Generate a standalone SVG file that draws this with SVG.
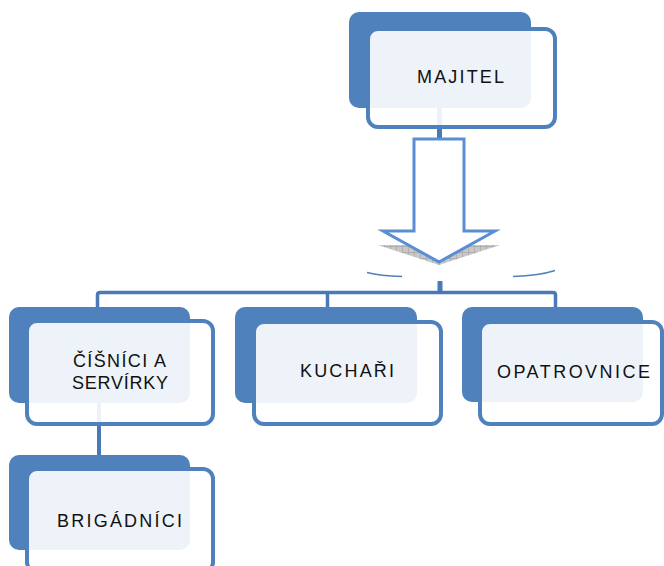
<svg xmlns="http://www.w3.org/2000/svg" width="664" height="566" viewBox="0 0 664 566">
<defs>
<style>
.back{fill:#4F81BD;}
.front{fill:#fff;fill-opacity:0.9;stroke:#4F81BD;stroke-width:4;}
.lbl{font-family:"Liberation Sans",Arial,sans-serif;font-size:18px;fill:#111;}
.con{stroke:#4A7AB5;fill:none;}
</style>
<pattern id="hatch" width="6" height="6" patternUnits="userSpaceOnUse">
<rect width="6" height="6" fill="#c8c8c8"/>
<path d="M0 0H6M0 0V6" stroke="#9a9a9a" stroke-width="1"/>
</pattern>
</defs>
<rect width="664" height="566" fill="#fff"/>
<g id="connectors">
<line class="con" x1="439.5" y1="100" x2="439.5" y2="139" stroke-width="5"/>
<polygon points="378,245 500,245 439,265" fill="url(#hatch)"/>
<path d="M414,139 H464 V231 H495 L439,262 L383,231 H414 Z" fill="#fff" stroke="#5A8ED3" stroke-width="3"/>
<path d="M367,272.5 Q380,276 402,276.5" stroke="#4F81BD" stroke-width="1.5" fill="none"/>
<path d="M513,276.5 Q540,275.5 555,270.5" stroke="#4F81BD" stroke-width="1.5" fill="none"/>
<line class="con" x1="440" y1="281" x2="440" y2="293" stroke-width="5"/>
<path class="con" d="M97.5,310 V295 Q97.5,292.5 100,292.5 H553 Q555.5,292.5 555.5,295 V310" stroke-width="3.5"/>
<line class="con" x1="327.5" y1="292" x2="327.5" y2="310" stroke-width="3.5"/>
<line class="con" x1="99" y1="400" x2="99" y2="460" stroke-width="4"/>
</g>
<g id="majitel">
<rect class="back" x="349" y="12" width="182" height="96" rx="10"/>
<rect class="front" x="368" y="29" width="187" height="98" rx="10"/>
<text class="lbl" x="417" y="83" textLength="87" lengthAdjust="spacing">MAJITEL</text>
</g>
<g id="cisnici">
<rect class="back" x="9" y="307" width="181" height="96" rx="10"/>
<rect class="front" x="27" y="321" width="186" height="103" rx="10"/>
<text class="lbl" x="73" y="367" textLength="93" lengthAdjust="spacing">ČÍŠNÍCI A</text>
<text class="lbl" x="72" y="389" textLength="96" lengthAdjust="spacing">SERVÍRKY</text>
</g>
<g id="kuchari">
<rect class="back" x="235" y="307" width="182" height="96" rx="10"/>
<rect class="front" x="254" y="322" width="187" height="102" rx="10"/>
<text class="lbl" x="300" y="377" textLength="94" lengthAdjust="spacing">KUCHAŘI</text>
</g>
<g id="opatrovnice">
<rect class="back" x="462" y="307" width="181" height="95" rx="10"/>
<rect class="front" x="480" y="322" width="182" height="102" rx="10"/>
<text class="lbl" x="497" y="378" textLength="153" lengthAdjust="spacing">OPATROVNICE</text>
</g>
<g id="brigadnici">
<rect class="back" x="9" y="455" width="181" height="95" rx="10"/>
<rect class="front" x="27" y="469" width="186" height="103" rx="10"/>
<text class="lbl" x="57" y="527" textLength="125" lengthAdjust="spacing">BRIGÁDNÍCI</text>
</g>
</svg>
